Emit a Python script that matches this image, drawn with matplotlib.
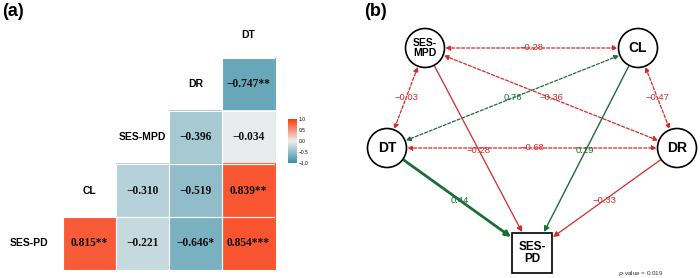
import numpy as np
import matplotlib.pyplot as plt
from matplotlib.colors import LinearSegmentedColormap
from matplotlib.patches import Circle, Rectangle, FancyArrowPatch

# ---- data: panel (a) correlation matrix (lower triangle, NaN = empty)
row_names = ['DR', 'SES-MPD', 'CL', 'SES-PD']
col_names = ['CL', 'SES-MPD', 'DR', 'DT']
corr = np.array([
    [np.nan, np.nan, np.nan, -0.747],
    [np.nan, np.nan, -0.396, -0.034],
    [np.nan, -0.310, -0.519, 0.839],
    [0.815, -0.221, -0.646, 0.854],
])
stars = [
    ['', '', '', '**'],
    ['', '', '', ''],
    ['', '', '', '**'],
    ['**', '', '*', '***'],
]

# ---- data: panel (b) path model
nodes = ['SES-MPD', 'CL', 'DT', 'DR', 'SES-PD']
cov_edges = [('SES-MPD', 'CL', -0.28), ('SES-MPD', 'DT', -0.03),
             ('CL', 'DR', -0.47), ('CL', 'DT', 0.76),
             ('SES-MPD', 'DR', -0.36), ('DT', 'DR', -0.68)]
path_edges = [('SES-MPD', 'SES-PD', -0.28), ('CL', 'SES-PD', 0.19),
              ('DT', 'SES-PD', 0.44), ('DR', 'SES-PD', -0.33)]
p_value = 0.019

SANS = ['Liberation Sans', 'DejaVu Sans']
SERIF = ['Liberation Serif', 'DejaVu Serif']
RED = '#d42a2a'
GREEN = '#1b6e35'

fig = plt.figure(figsize=(7, 2.78), dpi=100)
W, H = 700, 278

# ---------------- panel (a)
cmap = LinearSegmentedColormap.from_list('corr', ['#3a90a8', '#efefef', '#fa3b10'])
x0, top, cell = 63, 58, 53
ax = fig.add_axes([x0 / W, (H - top - 4 * cell) / H, 4 * cell / W, 4 * cell / H])
ax.imshow(np.ma.masked_invalid(corr), cmap=cmap, vmin=-1, vmax=1, aspect='auto')
for r in range(4):
    for c in range(4):
        if not np.isnan(corr[r, c]):
            ax.add_patch(Rectangle((c - 0.5, r - 0.5), 1, 1, fill=False,
                                   ec='white', lw=0.8))
            txt = f'{corr[r, c]:.3f}'.replace('-', '\u2212') + stars[r][c]
            ax.text(c, r, txt, ha='center', va='center', fontsize=8.3,
                    fontweight='bold', family=SERIF, color='#111111')
for r, name in enumerate(row_names):
    ax.text(2 - r if r < 3 else -1.15, r, name, ha='center', va='center',
            fontsize=7.5, fontweight='bold', family=SANS, clip_on=False)
ax.text(3, -0.93, col_names[3], ha='center', va='center', fontsize=7.5,
        fontweight='bold', family=SANS, clip_on=False)
ax.set_xlim(-0.5, 3.5)
ax.set_ylim(3.5, -0.5)
ax.axis('off')

cax = fig.add_axes([288 / W, (H - 163) / H, 9 / W, 44 / H])
grad = np.linspace(1, -1, 200).reshape(-1, 1)
cax.imshow(grad, cmap=cmap, vmin=-1, vmax=1, aspect='auto', extent=(0, 1, -1, 1))
cax.set_xticks([])
cax.yaxis.tick_right()
cax.set_yticks([-1, -0.5, 0, 0.5, 1])
cax.set_yticklabels(['\u22121.0', '\u22120.5', '0.0', '0.5', '1.0'],
                    fontsize=3.5, family=SANS)
cax.tick_params(axis='y', length=0, pad=1.5)
for s in cax.spines.values():
    s.set_visible(False)

fig.text(2 / W, 1 - 3 / H, '(a)', ha='left', va='top', fontsize=13,
         fontweight='bold', family=SANS)

# ---------------- panel (b)
bx = fig.add_axes([0, 0, 1, 1], facecolor='none')
bx.set_xlim(0, W)
bx.set_ylim(H, 0)
bx.axis('off')

pos = {'SES-MPD': (425, 48), 'CL': (638, 48), 'DT': (387, 148),
       'DR': (677, 148), 'SES-PD': (532, 253)}
rad, half = 19.5, 20
shapes = {}
for n in nodes:
    x, y = pos[n]
    if n == 'SES-PD':
        p = Rectangle((x - half, y - half), 2 * half, 2 * half, fc='white',
                      ec='black', lw=1.2, zorder=3)
        label, fs = 'SES-\nPD', 8.5
    else:
        p = Circle((x, y), rad, fc='white', ec='black', lw=1.2, zorder=3)
        label, fs = ('SES-\nMPD', 7.5) if n == 'SES-MPD' else (n, 10)
    bx.add_patch(p)
    shapes[n] = p
    bx.text(x, y, label, ha='center', va='center', fontsize=fs,
            fontweight='bold', family=SANS, linespacing=1.1, zorder=4)

for a, b, v in cov_edges:
    col = GREEN if v > 0 else RED
    arr = FancyArrowPatch(pos[a], pos[b], patchA=shapes[a], patchB=shapes[b],
                          arrowstyle='<|-|>', mutation_scale=7, lw=0.9,
                          ls=(0, (2.5, 1.5)), color=col, shrinkA=1, shrinkB=1,
                          zorder=2)
    bx.add_patch(arr)
    mx, my = (pos[a][0] + pos[b][0]) / 2, (pos[a][1] + pos[b][1]) / 2
    bx.text(mx, my, f'{v:.2f}'.replace('-', '\u2212'), ha='center', va='center',
            fontsize=6.8, family=SANS, color=col, zorder=5)

# where each path meets the SES-PD box (offset from its centre)
attach = {'SES-MPD': (-10, -21), 'CL': (12, -21), 'DT': (-21, -16), 'DR': (21, -16)}
widths = {'SES-MPD': 0.9, 'CL': 1.0, 'DT': 2.0, 'DR': 0.9}
tx, ty = pos['SES-PD']
for a, b, v in path_edges:
    col = GREEN if v > 0 else RED
    end = (tx + attach[a][0], ty + attach[a][1])
    arr = FancyArrowPatch(pos[a], end, patchA=shapes[a], arrowstyle='-|>',
                          mutation_scale=8, lw=widths[a], color=col,
                          shrinkA=1, shrinkB=0, zorder=2)
    bx.add_patch(arr)
    mx, my = (pos[a][0] + pos[b][0]) / 2, (pos[a][1] + pos[b][1]) / 2
    bx.text(mx, my, f'{v:.2f}'.replace('-', '\u2212'), ha='center', va='center',
            fontsize=6.8, family=SANS, color=col, zorder=5)

bx.text(641, 274, r'$p$-value = ' + f'{p_value:.3f}', ha='center', va='center',
        fontsize=4.5, family=SANS, color='#333333')
fig.text(364 / W, 1 - 3 / H, '(b)', ha='left', va='top', fontsize=13,
         fontweight='bold', family=SANS)

fig.savefig('out.png', dpi=100)
